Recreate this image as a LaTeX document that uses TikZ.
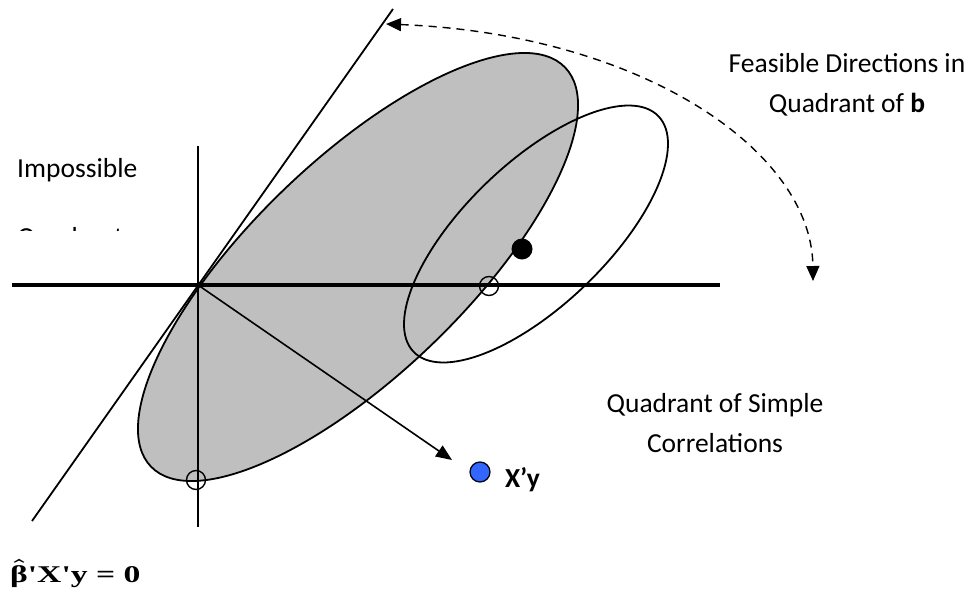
\documentclass[tikz,border=0pt]{standalone}
\usepackage{fontspec}
\usepackage{amsmath}
\setmainfont{Carlito}
\newfontfamily\timesbold{Liberation Serif}
\usetikzlibrary{arrows.meta}
\definecolor{shade}{RGB}{191,191,191}
\definecolor{dotblue}{RGB}{51,102,255}

\begin{document}
\begin{tikzpicture}[x=1pt, y=-1pt,
    every node/.style={font=\fontsize{27.5}{40}\selectfont, inner sep=0pt},
    ell/.style={line width=1.8pt},
    hollowdot/.style={circle, draw, line width=1.4pt, minimum size=19pt},
    soliddot/.style={circle, fill=black, minimum size=21pt},
    bluedot/.style={circle, draw, fill=dotblue, line width=1.2pt, minimum size=20pt},
    arrow/.style={-{Triangle[length=16pt,width=13pt]}, line width=1.6pt},
    feasarrow/.style={{Triangle[length=15pt,width=13pt]}-{Triangle[length=15pt,width=13pt]}, line width=1.4pt, dash pattern=on 8pt off 6pt}
]
    \useasboundingbox (0,0) rectangle (980,592);

    % Axes and points
    \coordinate (O) at (198,285);
    \coordinate (hleft) at (12,285);
    \coordinate (hright) at (720,285);
    \coordinate (vtop) at (198,146);
    \coordinate (vbot) at (198,527);
    \coordinate (tanlow) at (32,521);
    \coordinate (tanhigh) at (393,9);
    \coordinate (xytip) at (452,460);
    \coordinate (feasstart) at (386,24);
    \coordinate (feasend) at (813,281);

    % Ellipses
    \draw[ell, fill=shade, rotate around={43.95:(358,267)}] (358,267) ellipse [x radius=287.6pt, y radius=107.1pt];
    \draw[ell, rotate around={43.9:(536,234)}] (536,234) ellipse [x radius=169.9pt, y radius=71.1pt];

    \draw[line width=3.6pt] (hleft) -- (hright);
    \draw[line width=2.2pt] (vtop) -- (vbot);
    \draw[line width=1.8pt] (tanlow) -- (tanhigh);

    % Solution points
    \node[hollowdot] (rootlow) at (196,480) {};
    \node[hollowdot] (rootaxis) at (489,286) {};
    \node[soliddot] (bhat) at (522,249) {};
    \node[bluedot] (xy) at (480,472) {};
    \node[anchor=base west, font=\fontsize{27.5}{40}\selectfont\bfseries] (xylabel) at (505,487) {X’y};

    \draw[arrow] (O) -- (xytip);
    \draw[feasarrow] (feasstart) .. controls (640,34) and (812,150) .. (feasend);

    % Labels
    \node[anchor=base, align=center] (feastext) at (847,112) {Feasible Directions in\\Quadrant of \textbf{b}};
    \node[anchor=base west] (impossible) at (17,177) {Impossible};
    \begin{scope}
        \clip (0,0) rectangle (200,230.5);
        \node[anchor=base west] (impossible2) at (17,246) {Quadrant};
    \end{scope}
    \node[anchor=base, align=center] (simplecorr) at (715,452) {Quadrant of Simple\\Correlations};
    \node[anchor=base west] (normaleq) at (10,582) {\timesbold\bfseries\fontsize{24}{24}\selectfont\scalebox{1.4}[1]{$\boldsymbol{\hat{\mbox{β}}}$\textquotesingle X\textquotesingle y = 0}};
\end{tikzpicture}
\end{document}
